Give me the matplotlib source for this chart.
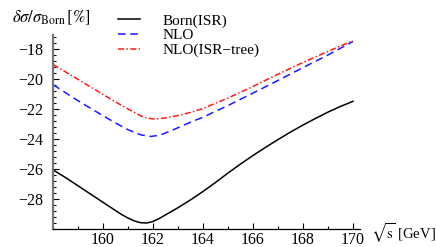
import matplotlib.pyplot as plt
from matplotlib.ticker import MultipleLocator

plt.rcParams['font.family'] = 'Liberation Serif'
plt.rcParams['mathtext.fontset'] = 'stix'

# valores
sqrt_s_born = [158, 158.5, 159, 159.5, 160, 160.5, 160.75, 161, 161.25, 161.5, 161.75, 162,
               162.25, 162.5, 163, 163.5, 164, 164.5, 165, 165.5, 166, 166.5, 167, 167.5,
               168, 168.5, 169, 169.5, 170]
born_isr = [-26.06, -26.57, -27.12, -27.67, -28.22, -28.77, -29.04, -29.27, -29.46, -29.58,
            -29.6, -29.5, -29.3, -29.06, -28.58, -28.06, -27.5, -26.9, -26.27, -25.67,
            -25.1, -24.56, -24.04, -23.54, -23.07, -22.63, -22.21, -21.83, -21.49]

sqrt_s_nlo = [158, 159, 160, 160.5, 161, 161.5, 161.9, 162.25, 162.5, 163, 163.5, 164,
              165, 166, 167, 168, 169, 170]
nlo = [-20.38, -21.45, -22.45, -22.93, -23.38, -23.72, -23.83, -23.76, -23.6, -23.25,
       -22.88, -22.55, -21.77, -20.94, -20.1, -19.24, -18.4, -17.5]

sqrt_s_tree = [158, 159, 160, 160.5, 161, 161.5, 161.75, 162, 162.25, 162.5, 163, 163.5,
               164, 165, 166, 167, 168, 169, 170]
nlo_tree = [-19.03, -20.03, -21.03, -21.53, -22.0, -22.45, -22.6, -22.66, -22.65, -22.59,
            -22.44, -22.23, -21.97, -21.27, -20.5, -19.68, -18.9, -18.16, -17.45]

fig = plt.figure(figsize=(4.36, 2.47), dpi=100)
ax = fig.add_axes([53/436, 18/247, 307/436, 194/247])

ax.plot(sqrt_s_born, born_isr, color='black', lw=1.1, label='Born(ISR)')
ax.plot(sqrt_s_nlo, nlo, color='#1a1aff', lw=1.1, dashes=(5, 3), label='NLO')
ax.plot(sqrt_s_tree, nlo_tree, color='#ff1a1a', lw=1.1,
        dashes=(4, 1.5, 1, 1.5), label='NLO(ISR\u2212tree)')

ax.set_xlim(158, 170.28)
ax.set_ylim(-30, -17.07)
ax.spines['top'].set_visible(False)
ax.spines['right'].set_visible(False)
ax.spines['left'].set_color('#777777')
ax.spines['left'].set_linewidth(1.6)
ax.spines['bottom'].set_linewidth(0.9)

ax.xaxis.set_minor_locator(MultipleLocator(1))
ax.yaxis.set_minor_locator(MultipleLocator(0.4))
ax.set_xticks([160, 162, 164, 166, 168, 170])
ax.set_yticks([-28, -26, -24, -22, -20, -18])
ax.set_yticklabels(['\u221228', '\u221226', '\u221224', '\u221222', '\u221220', '\u221218'])
ax.tick_params(which='both', direction='in', labelsize=11.5, width=0.8)
ax.tick_params(which='major', length=4)
ax.tick_params(axis='y', which='major', pad=7)
ax.tick_params(axis='x', which='major', pad=2)
ax.tick_params(which='minor', length=2)

fig.text(12/436, 1 - 18/247, r'$\delta\sigma/\sigma_{\rm Born}\,[\%]$', fontsize=12,
         va='center', ha='left')
fig.text(371/436, 1 - 233/247, r'$\sqrt{\rm s}$ [GeV]', fontsize=10.5,
         va='center', ha='left')

fig.legend(loc='upper left', bbox_to_anchor=(112/436, 1 - 8/247), frameon=False,
           fontsize=11, handlelength=1.4, handletextpad=1.5, labelspacing=0.05,
           borderaxespad=0)

plt.savefig('out.png', dpi=100)
